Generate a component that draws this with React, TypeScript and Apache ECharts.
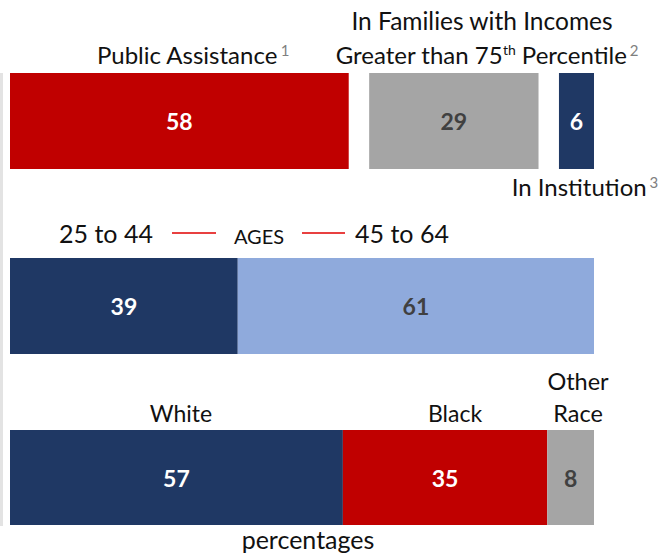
import React, { useEffect, useRef } from "react";
import * as echarts from "echarts";

// ---- data ----
const statusLabels = ["Public Assistance", "In Families with Incomes Greater than 75th Percentile", "In Institution"];
const statusValues = [58, 29, 6];
const statusGap = 3.5; // visual spacing between separate bars (percent units)
const statusColors = ["#C00000", "#A5A5A5", "#1F3864"];

const ageGroups = ["25 to 44", "45 to 64"];
const ageValues = [39, 61];
const ageColors = ["#1F3864", "#8FAADC"];

const races = ["White", "Black", "Other Race"];
const raceValues = [57, 35, 8];
const raceColors = ["#1F3864", "#C00000", "#A5A5A5"];

const FONT = "Lato, 'Open Sans', sans-serif";

function labelColorFor(bg: string) {
  return bg === "#A5A5A5" || bg === "#8FAADC" ? "#404040" : "#FFFFFF";
}

export default function App() {
  const ref = useRef<HTMLDivElement>(null);
  useEffect(() => {
    document.body.style.margin = "0";
    const chart = echarts.init(ref.current!, null, { renderer: "svg" });

    const grids = [
      { left: 10, width: 584, top: 73, height: 96 },
      { left: 10, width: 584, top: 258, height: 96 },
      { left: 10, width: 584, top: 430, height: 95 },
    ];
    const xAxes = grids.map((_, i) => ({
      type: "value", gridIndex: i, min: 0, max: 100, show: false,
    }));
    const yAxes = grids.map((_, i) => ({
      type: "category", gridIndex: i, data: ["row"], show: false,
    }));

    const mkSeries = (gi: number, name: string, value: number, color: string, stack: string, hidden = false) => ({
      type: "bar",
      name,
      xAxisIndex: gi,
      yAxisIndex: gi,
      stack,
      barWidth: "100%",
      silent: hidden,
      data: [value],
      itemStyle: { color: hidden ? "transparent" : color },
      label: hidden
        ? { show: false }
        : {
            show: true,
            position: "inside",
            formatter: "{c}",
            color: labelColorFor(color),
            fontFamily: FONT,
            fontWeight: "bold",
            fontSize: 23,
          },
    });

    const series: any[] = [];
    statusValues.forEach((v, i) => {
      if (i > 0) series.push(mkSeries(0, "gap" + i, statusGap, "transparent", "s0", true));
      series.push(mkSeries(0, statusLabels[i], v, statusColors[i], "s0"));
    });
    ageValues.forEach((v, i) => series.push(mkSeries(1, ageGroups[i], v, ageColors[i], "s1")));
    raceValues.forEach((v, i) => series.push(mkSeries(2, races[i], v, raceColors[i], "s2")));

    const txt = (text: string, x: number, y: number, size = 24, color = "#111", align = "center") => ({
      type: "text",
      x,
      y,
      style: { text, fill: color, font: `${size}px ${FONT}`, textAlign: align, textVerticalAlign: "middle" },
    });
    const richTxt = (text: string, x: number, y: number, size: number) => ({
      type: "text",
      x,
      y,
      style: {
        text,
        textAlign: "center",
        textVerticalAlign: "middle",
        fill: "#111",
        fontFamily: FONT,
        fontSize: size,
        rich: {
          m: { fontFamily: FONT, fontSize: size, fill: "#111", color: "#111" },
          t: { fontFamily: FONT, fontSize: 14, fill: "#111", color: "#111", verticalAlign: "top" },
          g: { fontFamily: FONT, fontSize: 15, fill: "#7F7F7F", color: "#7F7F7F", verticalAlign: "top", padding: [0, 0, 0, 3] },
        },
      },
    });

    const graphic: any[] = [
      { type: "rect", shape: { x: 0, y: 73, width: 3, height: 453 }, style: { fill: "#E3E3E3" } },
      richTxt("{m|Public Assistance}{g|1}", 193, 54, 24),
      txt("In Families with Incomes", 482, 20, 24.5),
      richTxt("{m|Greater than 75}{t|th}{m| Percentile}{g|2}", 487, 54, 24),
      richTxt("{m|In Institution}{g|3}", 585, 186, 24),
      txt("25 to 44", 106, 233, 25),
      { type: "line", shape: { x1: 172, y1: 233, x2: 216, y2: 233 }, style: { stroke: "#E00000", lineWidth: 1.5 } },
      txt("AGES", 259, 236, 20),
      { type: "line", shape: { x1: 302, y1: 233, x2: 345, y2: 233 }, style: { stroke: "#E00000", lineWidth: 1.5 } },
      txt("45 to 64", 402, 233, 25),
      txt("White", 181, 413, 23),
      txt("Black", 455, 413, 23),
      txt("Other", 578, 381, 23.5),
      txt("Race", 578, 413, 23.5),
      txt("percentages", 308, 539, 25),
    ];

    chart.setOption({
      animation: false,
      grid: grids,
      xAxis: xAxes,
      yAxis: yAxes,
      series,
      graphic,
    });
    return () => chart.dispose();
  }, []);
  return <div ref={ref} style={{ width: 671, height: 556 }} />;
}
